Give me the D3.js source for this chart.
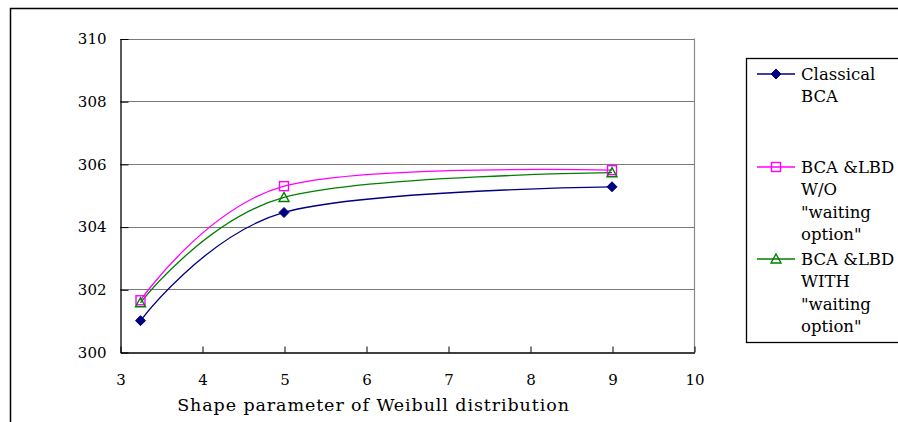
<!DOCTYPE html>
<html>
<head>
<meta charset="utf-8">
<script src="https://cdn.jsdelivr.net/npm/d3@7/dist/d3.min.js"></script>
<style>
  html, body { margin: 0; padding: 0; background: #fff; }
  svg { display: block; }
</style>
</head>
<body>
<svg id="chart" width="898" height="422"></svg>
<script>
// Shape parameter values (x) and the cost for each approach
const shapeParams = [3.25, 5, 9];
const classicalBCA = [301.0, 304.45, 305.27];
const lbdWithout = [301.65, 305.29, 305.80];
const lbdWith = [301.57, 304.93, 305.72];

const xTicks = [3, 4, 5, 6, 7, 8, 9, 10];
const yTicks = [300, 302, 304, 306, 308, 310];

const seriesNames = [
  ["Classical", "BCA"],
  ["BCA &LBD", "W/O", "\"waiting", "option\""],
  ["BCA &LBD", "WITH", "\"waiting", "option\""]
];

const series = [
  { values: classicalBCA, color: "#000080", marker: "diamond" },
  { values: lbdWithout, color: "#FF00FF", marker: "square" },
  { values: lbdWith, color: "#008000", marker: "triangle" }
];

const FONT = "'DejaVu Serif', 'Liberation Serif', serif";

const svg = d3.select("#chart")
  .attr("font-family", FONT);

// outer frame (runs off the right and bottom edges)
svg.append("rect")
  .attr("x", 10.5).attr("y", 8.5)
  .attr("width", 1000).attr("height", 1000)
  .attr("fill", "none").attr("stroke", "#000").attr("stroke-width", 1.5);

const plot = { left: 120, right: 694, top: 38.5, bottom: 352 };

const x = d3.scaleLinear().domain([3, 10]).range([plot.left, plot.right]);
const y = d3.scaleLinear().domain([300, 310]).range([plot.bottom, plot.top]);

// horizontal gridlines
svg.append("g")
  .selectAll("line")
  .data(yTicks.filter(v => v > 300))
  .join("line")
  .attr("x1", plot.left).attr("x2", plot.right)
  .attr("y1", d => Math.round(y(d)) + 0.5).attr("y2", d => Math.round(y(d)) + 0.5)
  .attr("stroke", "#7a7a7a").attr("stroke-width", 1.2);

// right border of the plot area
svg.append("line")
  .attr("x1", plot.right + 0.5).attr("x2", plot.right + 0.5)
  .attr("y1", plot.top).attr("y2", plot.bottom)
  .attr("stroke", "#8a8a8a").attr("stroke-width", 1.2);

// y axis: ticks pointing into the plot
const yAxis = d3.axisLeft(y).tickValues(yTicks).tickFormat(d3.format("d"))
  .tickSizeInner(-8).tickSizeOuter(0);
const gy = svg.append("g")
  .attr("transform", `translate(${plot.left + 0.5},0.5)`)
  .call(yAxis)
  .attr("font-family", FONT)
  .attr("font-size", 15);
gy.select(".domain").attr("stroke", "#000").attr("stroke-width", 1.3);
gy.selectAll(".tick line").attr("stroke", "#000");
gy.selectAll(".tick text").attr("x", -14).attr("fill", "#000");

// x axis: ticks pointing up
const xAxis = d3.axisBottom(x).tickValues(xTicks).tickFormat(d3.format("d"))
  .tickSizeInner(-6).tickSizeOuter(0);
const gx = svg.append("g")
  .attr("transform", `translate(0.5,${plot.bottom + 0.5})`)
  .call(xAxis)
  .attr("font-family", FONT)
  .attr("font-size", 15);
gx.select(".domain").attr("stroke", "#000").attr("stroke-width", 1.3);
gx.selectAll(".tick line").attr("stroke", "#000");
gx.selectAll(".tick text").attr("y", 22).attr("fill", "#000");

// axis title
svg.append("text")
  .attr("x", 373.5).attr("y", 411)
  .attr("text-anchor", "middle")
  .attr("font-size", 17.5)
  .attr("letter-spacing", 0.9)
  .text("Shape parameter of Weibull distribution");

// smoothed series lines
const line = d3.line()
  .x((d, i) => x(shapeParams[i]))
  .y(d => y(d))
  .curve(d3.curveCardinal.tension(0));

function drawMarker(g, type, color, cx, cy) {
  if (type === "diamond") {
    g.append("path")
      .attr("d", `M${cx},${cy - 5}L${cx + 5},${cy}L${cx},${cy + 5}L${cx - 5},${cy}Z`)
      .attr("fill", color).attr("stroke", color).attr("stroke-width", 1);
  } else if (type === "square") {
    g.append("rect")
      .attr("x", cx - 4.5).attr("y", cy - 4.5)
      .attr("width", 9).attr("height", 9)
      .attr("fill", "none").attr("stroke", color).attr("stroke-width", 1.4);
  } else {
    g.append("path")
      .attr("d", `M${cx},${cy - 5}L${cx + 5},${cy + 4}L${cx - 5},${cy + 4}Z`)
      .attr("fill", "none").attr("stroke", color).attr("stroke-width", 1.4);
  }
}

const gs = svg.append("g");
series.forEach(s => {
  gs.append("path")
    .attr("d", line(s.values))
    .attr("fill", "none")
    .attr("stroke", s.color)
    .attr("stroke-width", 1.3);
});
series.forEach(s => {
  s.values.forEach((v, i) => drawMarker(gs, s.marker, s.color, x(shapeParams[i]), y(v)));
});

// legend
const legend = svg.append("g");
legend.append("rect")
  .attr("x", 746.5).attr("y", 58.5)
  .attr("width", 300).attr("height", 284)
  .attr("fill", "#fff").attr("stroke", "#000").attr("stroke-width", 1.3);

const legendRowY = [74, 167, 259];
const lineGap = 22.5;
series.forEach((s, k) => {
  const ly = legendRowY[k];
  legend.append("line")
    .attr("x1", 757).attr("x2", 795)
    .attr("y1", ly).attr("y2", ly)
    .attr("stroke", s.color).attr("stroke-width", 1.3);
  drawMarker(legend, s.marker, s.color, 776, ly);
  const t = legend.append("text")
    .attr("x", 801).attr("y", ly)
    .attr("font-size", 16.5)
    .attr("fill", "#000");
  seriesNames[k].forEach((str, j) => {
    t.append("tspan")
      .attr("x", 801)
      .attr("y", ly + j * lineGap)
      .attr("dy", "0.36em")
      .text(str);
  });
});
</script>
</body>
</html>
